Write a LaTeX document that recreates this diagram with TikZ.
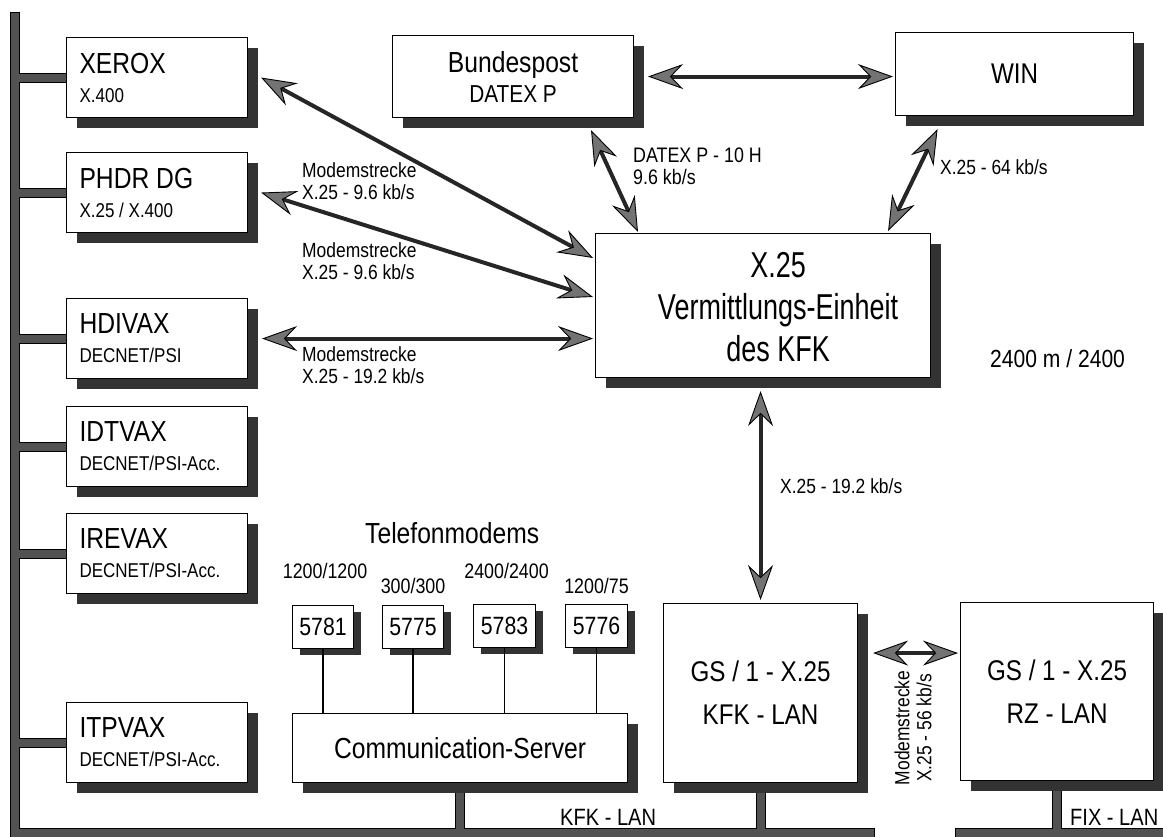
\documentclass[tikz,border=0pt]{standalone}
\usepackage{fontspec}
\setmainfont{Liberation Sans}[FakeStretch=0.85]
\newfontfamily\bigfont{Liberation Sans}[FakeStretch=0.75]
\usetikzlibrary{arrows.meta,shadows,calc,backgrounds}
\newcommand\fsz[2]{\fontsize{#1}{#2}\selectfont}
\newcommand\subt[1]{{\fsz{20}{20}#1}}
\tikzset{
  plainbox/.style={draw=black, line width=1.1pt, fill=white, inner sep=0pt, anchor=north west},
  box/.style={plainbox, drop shadow={shadow xshift=10pt, shadow yshift=-10pt, fill=black!80, opacity=1}},
  smallbox/.style={plainbox, drop shadow={shadow xshift=7pt, shadow yshift=-6pt, fill=black!80, opacity=1}},
  leftbox/.style={box, text width=155pt, inner xsep=13pt, minimum height=80pt, align=flush left, font=\fsz{29}{29}},
  ahead/.tip={Stealth[length=35pt, width=25pt, inset=12pt, line width=0.9pt, color=black, fill=black!55]},
  arr/.style={line width=4pt, draw=black!85, arrows={ahead-ahead}},
  lbl/.style={anchor=base west, inner sep=0pt, align=flush left, font=\fsz{20.5}{22}},
  spd/.style={anchor=base, inner sep=0pt, font=\fsz{21}{21}},
  modemline/.style={line width=1.2pt, draw=black},
}
\newcommand\netpaths{%
  \draw (15,17) -- (15,832.5) -- (870,832.5);
  \draw (960,832.5) -- (1175,832.5);
  \foreach \n in {xerox,phdr,hdivax,idtvax,irevax,itpvax} {\draw (\n.west -| bus) -- (\n.west);}
  \foreach \n in {comm,gskfk,gsrz} {\draw (\n.south) -- (\n.south |- lan);}
}
\begin{document}
\begin{tikzpicture}[x=1pt, y=-1pt]
\useasboundingbox (0,0) rectangle (1163,837);
\coordinate (bus) at (15,0);
\coordinate (lan) at (0,832.5);

% left column
\node[leftbox] (xerox) at (66,37) {XEROX\\\subt{X.400}};
\node[leftbox] (phdr) at (66,152) {PHDR DG\\\subt{X.25 / X.400}};
\node[leftbox] (hdivax) at (66,298) {HDIVAX\\\subt{DECNET/PSI}};
\node[leftbox] (idtvax) at (66,406) {IDTVAX\\\subt{DECNET/PSI-Acc.}};
\node[leftbox] (irevax) at (66,513) {IREVAX\\\subt{DECNET/PSI-Acc.}};
\node[leftbox] (itpvax) at (66,702) {ITPVAX\\\subt{DECNET/PSI-Acc.}};

% top
\node[box, minimum width=241pt, minimum height=82pt, align=center, font=\fsz{29}{30}] (bund) at (392,35) {Bundespost\\{\fsz{24.5}{24.5}DATEX P}};
\node[box, minimum width=238pt, minimum height=83pt, font=\fsz{28.5}{28.5}] (win) at (895,32) {WIN};

% centre
\node[box, minimum width=335pt, minimum height=144pt] (x25) at (595,233)
  {\hspace*{30pt}\bigfont\fsz{36}{42}\begin{tabular}{@{}c@{}}\rule{0pt}{40pt}X.25\\Vermittlungs-Einheit\\des KFK\end{tabular}};

% bottom right
\node[box, minimum width=194pt, minimum height=179pt, align=center, font=\fsz{28.5}{43}] (gskfk) at (663,603) {GS / 1 - X.25\\KFK - LAN};
\node[box, minimum width=193pt, minimum height=178pt, align=center, font=\fsz{28.5}{43}] (gsrz) at (960,602) {GS / 1 - X.25\\RZ - LAN};

% communication server and modems
\node[box, minimum width=335pt, minimum height=69pt, font=\fsz{29}{29}] (comm) at (292,713) {Communication-Server};
\node[smallbox, minimum width=61pt, minimum height=43pt, font=\fsz{25}{25}] (m5781) at (292,605) {5781};
\node[smallbox, minimum width=61pt, minimum height=43pt, font=\fsz{25}{25}] (m5775) at (382,605) {5775};
\node[smallbox, minimum width=62pt, minimum height=43pt, font=\fsz{25}{25}] (m5783) at (473,604) {5783};
\node[smallbox, minimum width=62pt, minimum height=43pt, font=\fsz{25}{25}] (m5776) at (565,604) {5776};
\node[spd] (s5781) at ($(m5781.north)+(2,-27)$) {1200/1200};
\node[spd] (s5775) at ($(m5775.north)+(0,-12)$) {300/300};
\node[spd] (s5783) at ($(m5783.north)+(2,-26)$) {2400/2400};
\node[spd] (s5776) at ($(m5776.north)+(0,-11)$) {1200/75};
\node[lbl, font=\fsz{29}{29}] (tel) at (365,543) {Telefonmodems};

\foreach \m in {m5781,m5775,m5783,m5776} {\draw[modemline] (\m.south) -- (\m.south |- comm.north);}

% network bars
\begin{scope}[on background layer]
  \begin{scope}[line width=10pt, color=black, line cap=rect] \netpaths \end{scope}
  \begin{scope}[line width=8pt, color=black!68, line cap=rect] \netpaths \end{scope}
\end{scope}

% arrows
\draw[arr] ($(xerox.east)+(13,0)$) -- ($(x25.north west)+(-2,25)$);
\draw[arr] ($(phdr.east)+(13,0)$) -- ($(x25.north west)+(-2,64)$);
\draw[arr] ($(hdivax.east)+(14,0)$) -- ($(hdivax.east -| x25.west)+(-2,0)$);
\draw[arr] ($(bund.south)+(78,12)$) -- ($(x25.north west)+(43,-1)$);
\draw[arr] ($(win.south)+(-77,13)$) -- ($(x25.north east)+(-43,-2)$);
\draw[arr] ($(bund.east)+(14,0)$) -- ($(bund.east -| win.west)+(-2,0)$);
\draw[arr] ($(gskfk.north |- x25.south)+(0,13)$) -- ($(gskfk.north)+(0,-3)$);
\coordinate (m56) at ($(gskfk.east)+(15,-40)$);
\draw[arr] (m56) -- ($(m56 -| gsrz.west)+(-2,0)$);

% labels (base anchor = last line)
\node[lbl] (l1) at (302,200) {Modemstrecke\\X.25 - 9.6 kb/s};
\node[lbl] (l2) at (302,280) {Modemstrecke\\X.25 - 9.6 kb/s};
\node[lbl] (l3) at (302,383) {Modemstrecke\\X.25 - 19.2 kb/s};
\node[lbl, font=\fsz{21}{22}] (l4) at (633,185) {DATEX P - 10 H\\9.6 kb/s};
\node[lbl] (l5) at (940,175) {X.25 - 64 kb/s};
\node[lbl] (l6) at (780,493) {X.25 - 19.2 kb/s};
\node[lbl, font=\fsz{24.8}{25}] (l7) at (990,367) {2400 m / 2400};
\node[lbl, font=\fsz{23.6}{24}] (kfklan) at (560,825) {KFK - LAN};
\node[lbl, font=\fsz{23.6}{24}] (fixlan) at (1070,825) {FIX - LAN};
\node[rotate=90, align=center, inner sep=0pt, font=\fsz{20.5}{22}] (l56) at (913,728) {Modemstrecke\\X.25 - 56 kb/s};
\end{tikzpicture}
\end{document}
